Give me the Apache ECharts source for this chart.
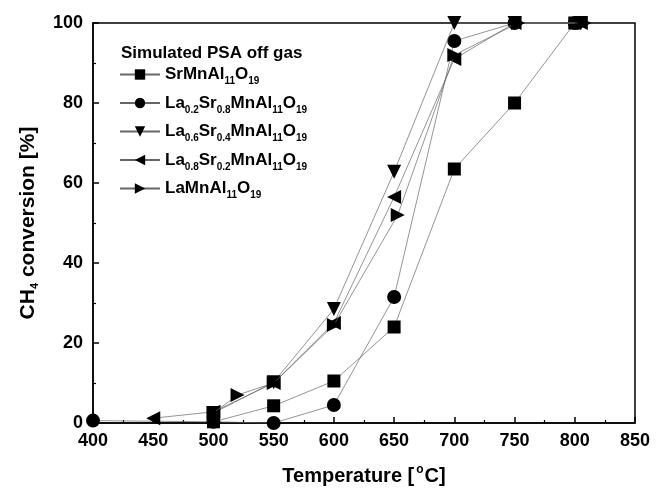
<!DOCTYPE html>
<html>
<head>
<meta charset="utf-8">
<script src="https://cdn.jsdelivr.net/npm/echarts@6/dist/echarts.min.js"></script>
<style>html,body{margin:0;padding:0;background:#fff}#c{width:657px;height:491px}</style>
</head>
<body>
<div id="c"></div>
<script>
// ---- data ----
var xTicks = [400, 450, 500, 550, 600, 650, 700, 750, 800, 850];
var yTicks = [0, 20, 40, 60, 80, 100];
var seriesNames = ['SrMnAl11O19', 'La0.2Sr0.8MnAl11O19', 'La0.6Sr0.4MnAl11O19', 'La0.8Sr0.2MnAl11O19', 'LaMnAl11O19'];
var legendRich = [
  '{n|SrMnAl}{s|11}{n|O}{s|19}',
  '{n|La}{s|0.2}{n|Sr}{s|0.8}{n|MnAl}{s|11}{n|O}{s|19}',
  '{n|La}{s|0.6}{n|Sr}{s|0.4}{n|MnAl}{s|11}{n|O}{s|19}',
  '{n|La}{s|0.8}{n|Sr}{s|0.2}{n|MnAl}{s|11}{n|O}{s|19}',
  '{n|LaMnAl}{s|11}{n|O}{s|19}'
];
var srMn = [[500, 0.3], [550, 4.3], [600, 10.5], [650, 24], [700, 63.5], [750, 80], [800, 100]];
var la02 = [[400, 0.6], [500, 0.3], [550, 0], [600, 4.5], [650, 31.5], [700, 95.5], [750, 100], [800, 100]];
var la06 = [[500, 2.5], [550, 10.2], [600, 28.5], [650, 62.8], [700, 100], [750, 100], [805, 100]];
var la08 = [[450, 1.2], [500, 2.8], [550, 10], [600, 25], [650, 56.5], [700, 91], [750, 100], [805, 100]];
var laMn = [[500, 2.5], [520, 7], [550, 10], [600, 24.5], [653, 52], [700, 92], [753, 100], [808, 100]];
var seriesData = [srMn, la02, la06, la08, laMn];
var symbols = ['rect', 'circle', 'triangle', 'triangle', 'triangle'];
var rotations = [0, 0, 180, 90, -90];
var symSizes = [13, 14, 14, 14, 14];

var FONT = 'Liberation Sans, Arial, sans-serif';
var chart = echarts.init(document.getElementById('c'));
var series = seriesNames.map(function (n, i) {
  return {
    name: n, type: 'line', data: seriesData[i],
    symbol: symbols[i], symbolRotate: rotations[i], symbolSize: symSizes[i],
    showSymbol: true, clip: false,
    lineStyle: { color: '#666', width: 0.7 },
    itemStyle: { color: '#000' },
    z: 3 + i
  };
});
chart.setOption({
  animation: false,
  backgroundColor: '#fff',
  title: {
    text: 'Simulated PSA off gas', left: 116, top: 40,
    textStyle: { fontFamily: FONT, fontSize: 17, fontWeight: 'bold', color: '#000' }
  },
  legend: {
    orient: 'vertical', left: 114, top: 61,
    itemWidth: 40, itemHeight: 13, itemGap: 8,
    data: seriesNames,
    formatter: function (name) { return legendRich[seriesNames.indexOf(name)]; },
    textStyle: {
      fontFamily: FONT, color: '#000',
      rich: {
        n: { fontSize: 17, fontWeight: 'bold', fontFamily: FONT, color: '#000', lineHeight: 24, verticalAlign: 'middle' },
        s: { fontSize: 10, fontWeight: 'bold', fontFamily: FONT, color: '#000', lineHeight: 10, verticalAlign: 'bottom' }
      }
    }
  },
  grid: { left: 93, right: 22, top: 23, bottom: 68, show: true, borderColor: '#000', borderWidth: 1.5, backgroundColor: 'transparent' },
  xAxis: {
    type: 'value', min: 400, max: 850, interval: 50,
    name: '{n|Temperature [}{u|o}{n|C]}', nameLocation: 'middle', nameGap: 41,
    nameTextStyle: {
      rich: {
        n: { fontSize: 20, fontWeight: 'bold', fontFamily: FONT, color: '#000', lineHeight: 24, verticalAlign: 'middle' },
        u: { fontSize: 12, fontWeight: 'bold', fontFamily: FONT, color: '#000', lineHeight: 24, verticalAlign: 'top', padding: [0, 1, 8, 2] }
      }
    },
    axisLine: { lineStyle: { color: '#000', width: 1.5 } },
    axisTick: { inside: true, length: 6, lineStyle: { color: '#000', width: 1.5 } },
    minorTick: { show: true, splitNumber: 2, length: 3, lineStyle: { color: '#000', width: 1.2 } },
    splitLine: { show: false },
    axisLabel: { fontFamily: FONT, fontSize: 18, fontWeight: 'bold', color: '#000', margin: 9 }
  },
  yAxis: {
    type: 'value', min: 0, max: 100, interval: 20,
    name: '{n|CH}{s|4}{n| conversion [%]}', nameLocation: 'middle', nameGap: 53, nameRotate: 90,
    nameTextStyle: {
      rich: {
        n: { fontSize: 21, fontWeight: 'bold', fontFamily: FONT, color: '#000', lineHeight: 24, verticalAlign: 'middle' },
        s: { fontSize: 11, fontWeight: 'bold', fontFamily: FONT, color: '#000', lineHeight: 11, verticalAlign: 'bottom' }
      }
    },
    axisLine: { lineStyle: { color: '#000', width: 1.5 } },
    axisTick: { inside: true, length: 6, lineStyle: { color: '#000', width: 1.5 } },
    minorTick: { show: true, splitNumber: 2, length: 3, lineStyle: { color: '#000', width: 1.2 } },
    splitLine: { show: false },
    axisLabel: { fontFamily: FONT, fontSize: 18, fontWeight: 'bold', color: '#000', margin: 10 }
  },
  series: series
});
</script>
</body>
</html>
